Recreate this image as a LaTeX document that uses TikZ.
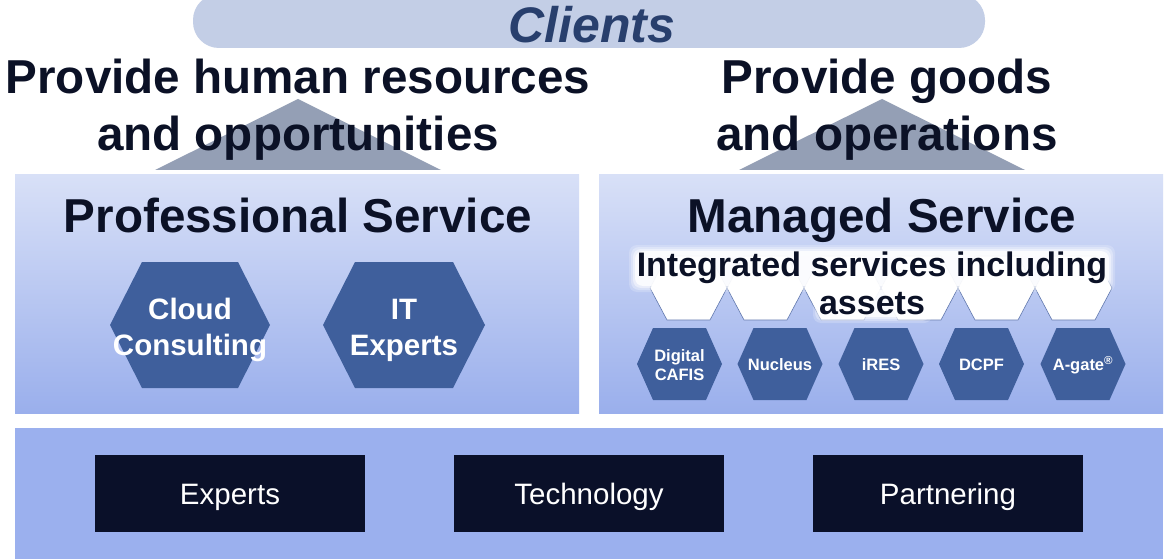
\documentclass[tikz,border=0pt]{standalone}
\usepackage{fontspec}
\setmainfont{Liberation Sans}

\definecolor{clientbar}{HTML}{C3CEE6}
\definecolor{clientink}{HTML}{283F6D}
\definecolor{inkc}{HTML}{0B1126}
\definecolor{roofc}{HTML}{949FB5}
\definecolor{paneltop}{HTML}{D8E0F7}
\definecolor{panelbot}{HTML}{9AAFEC}
\definecolor{basec}{HTML}{9BB0EE}
\definecolor{pillarc}{HTML}{0A1029}
\definecolor{hexc}{HTML}{3F5F9C}
\definecolor{hexline}{HTML}{5E76AD}

% hexagon outline: centre, half width, half height, slant
\newcommand{\hexpath}[4]{(#1) ++(-#2,0) -- ++(#4,-#3) -- ++({2*#2-2*#4},0) -- ++(#4,#3) -- ++(-#4,#3) -- ++({-2*#2+2*#4},0) -- cycle}

\begin{document}
\begin{tikzpicture}[x=1pt,y=-1pt,
  heading/.style={font=\fontsize{47.6}{57}\selectfont\bfseries, text=inkc, align=center, inner sep=0pt},
  panel/.style={top color=paneltop, bottom color=panelbot},
  glow/.style={fill=white, rounded corners=8pt},
  bighex/.style={font=\fontsize{29.5}{36}\selectfont\bfseries, text=white, align=center, inner sep=0pt},
  smallhex/.style={font=\fontsize{16.5}{19}\selectfont\bfseries, text=white, align=center, inner sep=0pt},
  pillar/.style={fill=pillarc, text=white, minimum width=270pt, minimum height=77pt, text height=22pt, text depth=0pt, font=\fontsize{29.5}{35}\selectfont}]
  \clip (0,0) rectangle (1165,559);
  \fill[white] (0,0) rectangle (1165,559);

  % Clients bar
  \fill[clientbar, rounded corners=26pt] (193,-6) rectangle (985,48);
  \node[font=\fontsize{50}{60}\selectfont\bfseries\itshape, text=clientink, inner sep=0pt, anchor=base] (clients) at (592,43) {Clients};

  % Roofs
  \fill[roofc] (155,170) -- (298,99) -- (441,170) -- cycle;
  \fill[roofc] (739,170) -- (882,99) -- (1025,170) -- cycle;
  \node[heading, anchor=base] (humans) at (298,150) {Provide human resources\\and opportunities};
  \node[heading, anchor=base] (goods) at (887,150) {Provide goods\\and operations};

  % Panels
  \fill[panel] (15,175) rectangle (579,413);
  \fill[panel] (599,175) rectangle (1163,413);
  \fill[basec] (15,428) rectangle (1163,559);

  % Professional service
  \node[heading, anchor=base] (prof) at (298,232) {Professional Service};
  \fill[hexc] \hexpath{190,325}{80}{63}{32};
  \fill[hexc] \hexpath{404,325}{81}{63}{32};
  \node[bighex] (cloud) at (190,330) {Cloud\\Consulting};
  \node[bighex] (itexp) at (404,330) {IT\\Experts};

  % Managed service
  \node[heading, anchor=base] (managed) at (882,232) {Managed Service};
  \foreach \k in {0,...,5}
    \filldraw[fill=white, draw=hexline, line width=0.6pt] \hexpath{{688.5+77*\k},288}{38.5}{32}{17};
  % soft white halo behind the asset caption
  \foreach \g/\o in {7/0.2,5/0.3,3/0.45,1/0.8} {
    \fill[glow, opacity=\o] (636-\g,252-\g) rectangle (1108+\g,285+\g);
    \fill[glow, opacity=\o] (820-\g,291-\g) rectangle (925+\g,316+\g);
  }
  \node[font=\fontsize{34}{38}\selectfont\bfseries, text=inkc, align=center, inner sep=0pt, anchor=base] (assets) at (872,314) {Integrated services including\\assets};
  \foreach \cx in {679.5,780,881,981.5,1083}
    \fill[hexc] \hexpath{\cx,364}{42.5}{36}{16};
  \node[smallhex] (cafis) at (679.5,365) {Digital\\CAFIS};
  \node[smallhex] (nucleus) at (780,365) {Nucleus};
  \node[smallhex] (ires) at (881,365) {iRES};
  \node[smallhex] (dcpf) at (981.5,365) {DCPF};
  \node[smallhex] (agate) at (1083,365) {A-gate\textsuperscript{®}};

  % Foundation
  \node[pillar] (experts) at (230,493.5) {Experts};
  \node[pillar] (tech) at (589,493.5) {Technology};
  \node[pillar] (partner) at (948,493.5) {Partnering};
\end{tikzpicture}
\end{document}
